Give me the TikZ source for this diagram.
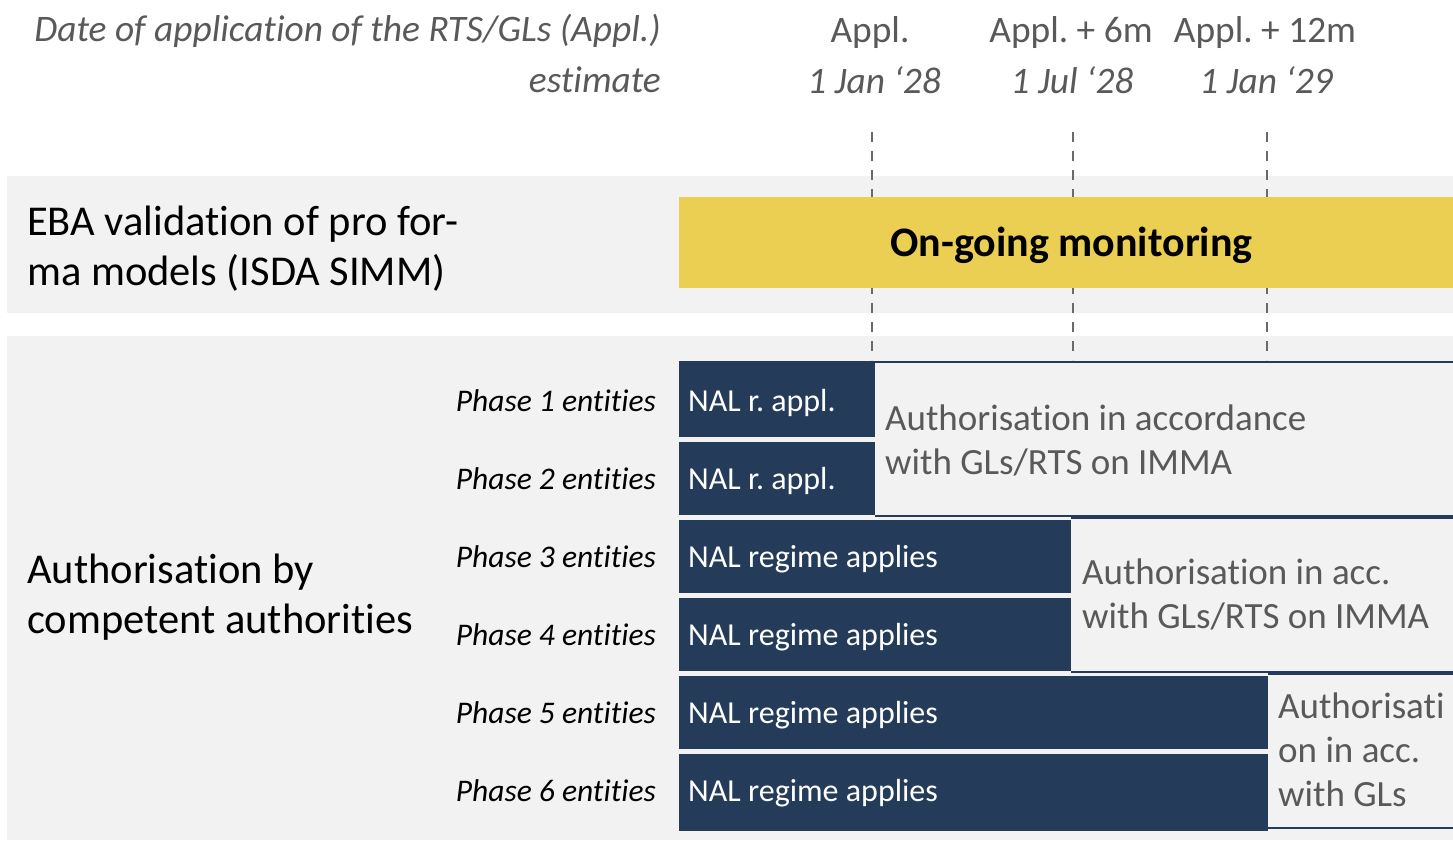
\documentclass[tikz,border=0pt]{standalone}
\usepackage{fontspec}
\setmainfont[Ligatures=NoCommon]{Carlito}
\definecolor{navy}{HTML}{243B5A}
\definecolor{gold}{HTML}{EBCF52}
\definecolor{band}{HTML}{F2F2F2}
\definecolor{txtgray}{HTML}{595959}
\definecolor{dashgray}{HTML}{6A6A6A}
\frenchspacing
\begin{document}
\begin{tikzpicture}[x=1pt,y=-1pt,
  lbl/.style={inner sep=0pt, font=\fontsize{42.5}{51}\selectfont, text=black, anchor=base west},
  hdr/.style={inner sep=0pt, font=\fontsize{37.4}{44}\selectfont, text=txtgray},
  hdrit/.style={hdr, font=\fontsize{37.4}{44}\selectfont\itshape},
  phase/.style={inner sep=0pt, font=\fontsize{31.5}{38}\selectfont\itshape, text=black, anchor=base east},
  nal/.style={inner sep=0pt, font=\fontsize{32}{38}\selectfont, text=white, anchor=base west},
  auth/.style={inner sep=0pt, font=\fontsize{37}{44}\selectfont, text=txtgray, anchor=base west},
  timeline/.style={draw=dashgray, line width=2.6pt, dash pattern=on 10pt off 9pt},
  darkrow/.style={fill=navy},
  authbox/.style={fill=band},
  authedge/.style={draw=navy, line width=2pt},
  ]
\useasboundingbox (0,0) rectangle (1453,842);
\clip (0,0) rectangle (1453,842);

% background bands
\fill[band] (7,176) rectangle (1460,313);
\fill[band] (7,336) rectangle (1460,840);

% timeline markers
\foreach \n/\x in {t1/872,t2/1073,t3/1267}{
  \coordinate (\n top) at (\x,132);
  \coordinate (\n bot) at (\x,360);
  \draw[timeline] (\n top) -- (\n bot);
}

% monitoring bar
\fill[gold] (679,197) rectangle (1460,288);
\node[inner sep=0pt, font=\fontsize{42}{51}\selectfont\bfseries, anchor=base] (mon) at (1071.5,257) {On-going monitoring};

% authorisation boxes (light, navy top/bottom edges)
\fill[authbox] (875,362) rectangle (1460,516);
\coordinate (aTL) at (875,362); \coordinate (aTR) at (1460,362);
\coordinate (aBL) at (875,516); \coordinate (aBR) at (1460,516);
\draw[authedge] (aTL) -- (aTR);
\draw[authedge] (aBL) -- (aBR);

\fill[authbox] (1071,518) rectangle (1460,672);
\coordinate (bTL) at (1071,518); \coordinate (bTR) at (1460,518);
\coordinate (bBL) at (1071,672); \coordinate (bBR) at (1460,672);
\draw[authedge] (bTL) -- (bTR);
\draw[authedge] (bBL) -- (bBR);

\fill[authbox] (1268,674) rectangle (1460,828);
\coordinate (cTL) at (1268,674); \coordinate (cTR) at (1460,674);
\coordinate (cBL) at (1268,828); \coordinate (cBR) at (1460,828);
\draw[authedge] (cTL) -- (cTR);
\draw[authedge] (cBL) -- (cBR);

% dark NAL rows
\fill[darkrow] (679,361) rectangle (875,437);
\fill[darkrow] (679,442) rectangle (875,515);
\fill[darkrow] (679,520) rectangle (1071,593);
\fill[darkrow] (679,598) rectangle (1071,671);
\fill[darkrow] (679,676) rectangle (1268,749);
\fill[darkrow] (679,754) rectangle (1268,831);

% header texts
\node[hdrit, anchor=base east] (h1) at (661,42) {Date of application of the RTS/GLs (Appl.)};
\node[hdrit, anchor=base east] (h2) at (661,93) {estimate};
\node[hdr, anchor=base] (d1a) at (870,43) {Appl.};
\node[hdr, anchor=base] (d2a) at (1071,43) {Appl. + 6m};
\node[hdr, anchor=base] (d3a) at (1265,43) {Appl. + 12m};
\node[hdrit, anchor=base] (d1b) at (874,94) {1 Jan ‘28};
\node[hdrit, anchor=base] (d2b) at (1072,94) {1 Jul ‘28};
\node[hdrit, anchor=base] (d3b) at (1266,94) {1 Jan ‘29};

% left labels
\node[lbl] (eba1) at (27,236) {EBA validation of pro for-};
\node[lbl] (eba2) at (27,286) {ma models (ISDA SIMM)};
\node[lbl] (ca1) at (27,583) {Authorisation by};
\node[lbl] (ca2) at (27,633) {competent authorities};

% phase labels and NAL texts
\foreach \i/\y/\t in {1/411/NAL r. appl.,2/489/NAL r. appl.,3/567/NAL regime applies,4/645/NAL regime applies,5/723/NAL regime applies,6/801/NAL regime applies}{
  \node[phase] (ph\i) at (656,\y) {Phase \i{} entities};
  \node[nal] (nal\i) at (688,\y) {\t};
}

% authorisation texts
\node[auth] (a1) at (885,430) {Authorisation in accordance};
\node[auth] (a2) at (885,474) {with GLs/RTS on IMMA};
\node[auth] (b1) at (1082,584) {Authorisation in acc.};
\node[auth] (b2) at (1082,628) {with GLs/RTS on IMMA};
\node[auth] (c1) at (1278,718) {Authorisati};
\node[auth] (c2) at (1278,762) {on in acc.};
\node[auth] (c3) at (1278,806) {with GLs};
\end{tikzpicture}
\end{document}
